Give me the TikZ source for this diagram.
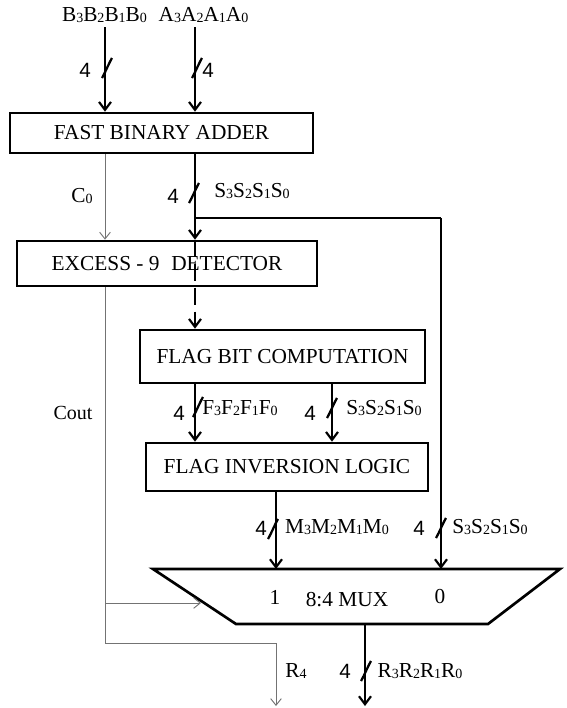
\documentclass[tikz,border=0pt]{standalone}
\usepackage{fontspec}
\setmainfont{Liberation Serif}
\newfontfamily\sansf{Liberation Sans}
\usetikzlibrary{arrows.meta}
\newcommand{\sbs}[1]{{\fontsize{10.5}{10.5}\selectfont\raisebox{-0.15ex}{#1}}}
\newcommand{\bits}[1]{#1\sbs{3}#1\sbs{2}#1\sbs{1}#1\sbs{0}}
\begin{document}
\begin{tikzpicture}[x=0.75pt,y=-0.75pt,
  bus/.style={line width=2pt, -{Straight Barb[length=6pt,width=9pt,line width=1.6pt]}},
  busline/.style={line width=2pt},
  ctrl/.style={line width=0.7pt, draw=black!55, -{Straight Barb[length=5pt,width=8pt,line width=0.7pt]}},
  ctrlline/.style={line width=0.7pt, draw=black!55},
  blk/.style={draw, line width=2pt, inner sep=0pt, font=\fontsize{16}{16}\selectfont},
  lbl/.style={font=\fontsize{16}{16}\selectfont, inner sep=0pt},
  num/.style={font=\sansf\fontsize{15.5}{15.5}\selectfont, inner sep=0pt},
  busmark/.pic={\draw[line width=1.7pt] (-5,10) .. controls (-1,3) and (1,-3) .. (5,-10);}
]
\useasboundingbox (0,0) rectangle (567,708);

% blocks
\node[blk, minimum width=227.25pt, minimum height=30pt] (adder) at (161.5,133) {FAST BINARY ADDER};
\node[blk, minimum width=225pt, minimum height=33.75pt] (excess) at (167,263.5) {EXCESS - 9\hspace{0.55em}DETECTOR};
\node[blk, minimum width=213.75pt, minimum height=39.75pt] (flagbit) at (282.5,356.5) {FLAG BIT COMPUTATION};
\node[blk, minimum width=211.5pt, minimum height=36pt] (flaginv) at (287,467) {FLAG INVERSION LOGIC};

% MUX trapezoid
\coordinate (mtl) at (153,569);
\coordinate (mtr) at (560,569);
\coordinate (mbr) at (488,624);
\coordinate (mbl) at (236,624);
\draw[line width=2pt, line join=miter] (mtl) -- (mtr) -- (mbr) -- (mbl) -- cycle;
\node[lbl] (mux) at (347,600) {8:4 MUX};
\node[lbl] (mux1) at (275,597) {1};
\node[lbl] (mux0) at (440,597) {0};

% column coordinates
\coordinate (bx) at (105,27);
\coordinate (ax) at (195,27);
\coordinate (fx) at (195,383);
\coordinate (sx2) at (332,383);
\coordinate (mx) at (276,491);
\coordinate (br) at (195,218);
\coordinate (rx) at (441,218);
\coordinate (ry) at (365,624);
\coordinate (rend) at (365,706);
\coordinate (cturn) at (105,643);
\coordinate (r4turn) at (276,643);
\coordinate (r4end) at (276,706);
\coordinate (selpt) at (105,603);
\coordinate (selend) at (201,603);

% input labels
\node[lbl] (lblB) at (104.5,15) {\bits{B}};
\node[lbl] (lblA) at (203.5,15) {\bits{A}};

% inputs
\draw[bus] (bx) -- (bx |- adder.north);
\draw[bus] (ax) -- (ax |- adder.north);
\pic at (107,68) {busmark};
\pic at (197,68) {busmark};
\node[num] (n4b) at (85,70) {4};
\node[num] (n4a) at (208,70) {4};

% adder outputs
\draw[ctrl] (adder.south -| bx) -- (excess.north -| bx);
\node[lbl] (lblC0) at (82,196) {C\sbs{0}};
\draw[bus] (adder.south -| ax) -- (excess.north -| ax);
\pic at (194,193) {busmark};
\node[num] (n4s) at (173,196) {4};
\node[lbl] (lblS1) at (252,191) {\bits{S}};
\draw[busline] (br) -- (rx);
\draw[bus] (rx) -- (rx |- mtl);

% dashed path through detector
\draw[bus, dash pattern=on 13pt off 5pt] (excess.north -| ax) -- (flagbit.north -| ax);

% flag bit outputs
\draw[bus] (fx) -- (fx |- flaginv.north);
\draw[bus] (sx2) -- (sx2 |- flaginv.north);
\pic at (198,407) {busmark};
\pic at (332,408) {busmark};
\node[num] (n4f) at (179,413) {4};
\node[lbl] (lblF) at (240,408) {\bits{F}};
\node[num] (n4s2) at (310,413) {4};
\node[lbl] (lblS2) at (384,408) {\bits{S}};

% flag inversion output
\draw[bus] (mx) -- (mx |- mtl);
\pic at (273,529) {busmark};
\node[num] (n4m) at (261,528) {4};
\node[lbl] (lblM) at (337,527) {\bits{M}};
\pic at (441,528) {busmark};
\node[num] (n4s3) at (419,528) {4};
\node[lbl] (lblS3) at (490,527) {\bits{S}};

% carry out path
\draw[ctrlline] (excess.south -| bx) -- (cturn) -- (r4turn);
\draw[ctrl] (r4turn) -- (r4end);
\draw[ctrl] (selpt) -- (selend);
\node[lbl, font=\fontsize{15}{15}\selectfont] (lblCout) at (73,413) {Cout};
\node[lbl] (lblR4) at (296,671) {R\sbs{4}};

% mux output
\draw[bus] (ry) -- (rend);
\pic at (366,671) {busmark};
\node[num] (n4r) at (345,671) {4};
\node[lbl] (lblR) at (420,671) {\bits{R}};
\end{tikzpicture}
\end{document}
